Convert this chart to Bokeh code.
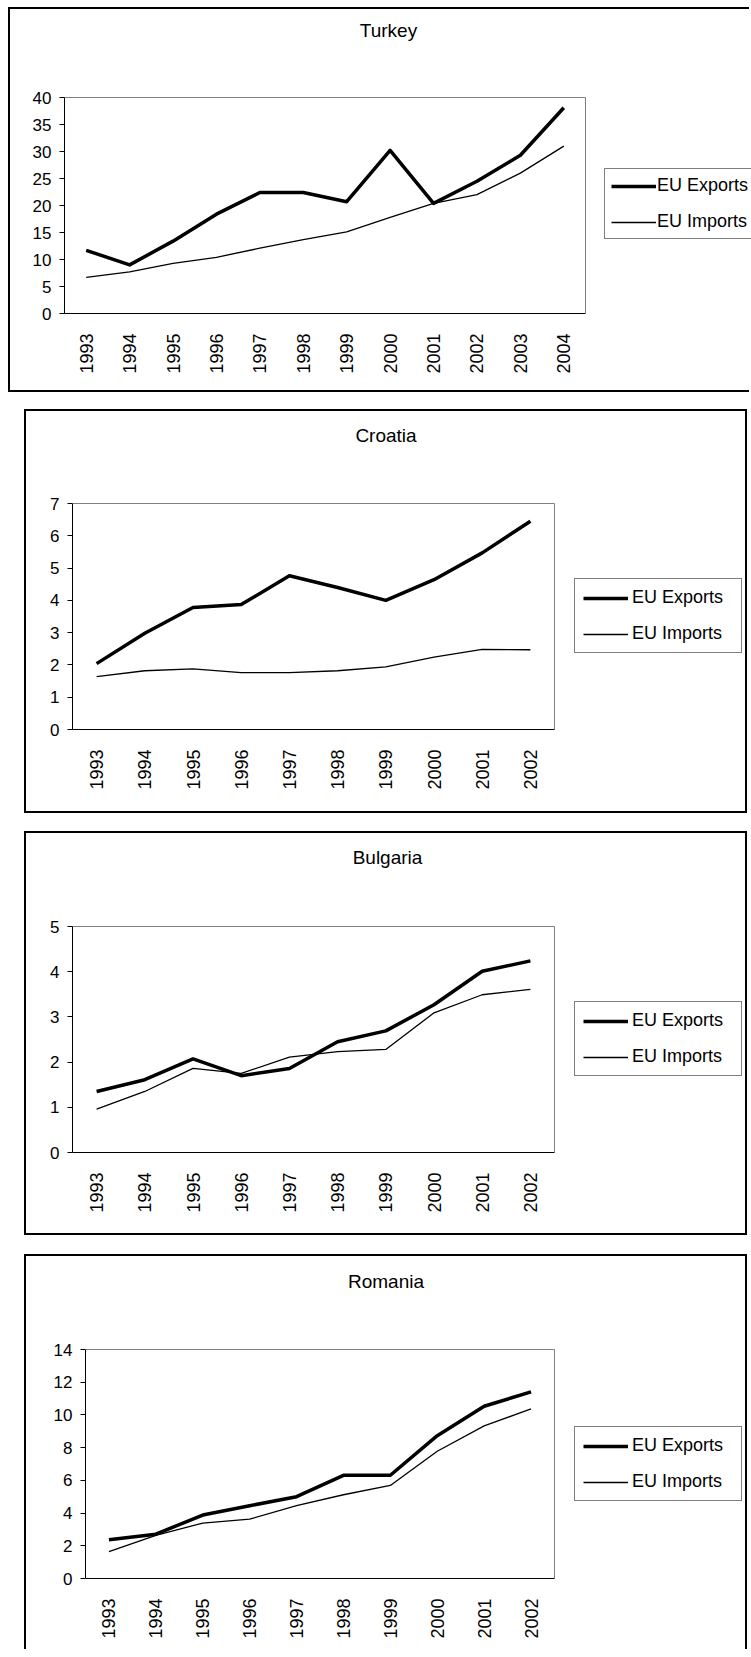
import math
from bokeh.plotting import figure
from bokeh.models import Range1d, FixedTicker, Legend, LegendItem, Label
from bokeh.embed import file_html
from bokeh.resources import INLINE

FONT = "Liberation Sans"

# ---- data ----
turkey_years = ["1993", "1994", "1995", "1996", "1997", "1998", "1999", "2000", "2001", "2002", "2003", "2004"]
turkey_exports = [11.7, 9.0, 13.4, 18.4, 22.4, 22.4, 20.7, 30.2, 20.4, 24.5, 29.3, 38.1]
turkey_imports = [6.7, 7.7, 9.3, 10.4, 12.1, 13.7, 15.1, 17.8, 20.4, 22.0, 26.0, 31.0]

years_10 = ["1993", "1994", "1995", "1996", "1997", "1998", "1999", "2000", "2001", "2002"]
croatia_exports = [2.04, 2.98, 3.78, 3.87, 4.76, 4.40, 4.00, 4.64, 5.47, 6.45]
croatia_imports = [1.64, 1.82, 1.88, 1.76, 1.76, 1.82, 1.94, 2.24, 2.48, 2.47]

bulgaria_exports = [1.35, 1.61, 2.07, 1.70, 1.86, 2.45, 2.69, 3.27, 4.01, 4.24]
bulgaria_imports = [0.96, 1.35, 1.86, 1.75, 2.11, 2.23, 2.28, 3.09, 3.49, 3.61]

romania_exports = [2.37, 2.71, 3.88, 4.45, 5.00, 6.31, 6.31, 8.73, 10.53, 11.41]
romania_imports = [1.65, 2.63, 3.39, 3.63, 4.45, 5.12, 5.69, 7.78, 9.33, 10.37]

series_labels = ["EU Exports", "EU Imports"]


def make_panel(title, years, exports, imports, y_max, y_step, width, height,
               bl, bb, plot_w, plot_h, styles, margin,
               title_dx, title_dy, legend_loc, legend_padding, glyph_w, label_sof, label_w):
    """width/height: canvas size; bl/bb: left/bottom border; plot_w/plot_h: size of the
    chart area (the frame is extended up and right so title and legend live inside it);
    title_dx/title_dy: title centre/baseline offsets in px from the chart area's bottom-left."""
    n = len(years)
    frame_w = width - bl
    frame_h = height - bb
    x_end = n * frame_w / plot_w
    y_end = y_max * frame_h / plot_h
    px_x = plot_w / n
    px_y = plot_h / y_max

    p = figure(width=width, height=height,
               x_range=Range1d(0, x_end), y_range=Range1d(0, y_end),
               output_backend="svg", toolbar_location=None,
               min_border_left=bl, min_border_top=0, min_border_right=0, min_border_bottom=bb,
               margin=margin, styles=styles)
    p.background_fill_color = "white"
    p.border_fill_color = "white"
    p.outline_line_color = None
    p.xgrid.visible = False
    p.ygrid.visible = False

    xs = [i + 0.5 for i in range(n)]

    # grey top and right edges of the chart area
    p.line([0, n, n], [y_max, y_max, 0], line_color="#808080", line_width=1)

    r1 = p.line(xs, exports, line_width=3.5, line_color="black", line_join="round")
    r2 = p.line(xs, imports, line_width=1.3, line_color="black", line_join="round")

    xa = p.xaxis[0]
    xa.ticker = FixedTicker(ticks=xs)
    xa.major_label_overrides = {x: y for x, y in zip(xs, years)}
    xa.bounds = (0, n)
    xa.major_label_orientation = math.pi / 2
    xa.major_tick_out = 0
    xa.major_tick_in = 0
    xa.minor_tick_line_color = None
    xa.axis_line_color = "black"
    xa.major_label_standoff = 20
    xa.major_label_text_font = FONT
    xa.major_label_text_font_size = "18px"
    xa.major_label_text_color = "black"

    ya = p.yaxis[0]
    ya.ticker = FixedTicker(ticks=list(range(0, y_max + 1, y_step)))
    ya.bounds = (0, y_max)
    ya.major_tick_out = 5
    ya.major_tick_in = 0
    ya.minor_tick_line_color = None
    ya.axis_line_color = "black"
    ya.major_label_standoff = 8
    ya.major_label_text_font = FONT
    ya.major_label_text_font_size = "17px"
    ya.major_label_text_color = "black"

    legend = Legend(items=[LegendItem(label=series_labels[0], renderers=[r1]),
                           LegendItem(label=series_labels[1], renderers=[r2])],
                    location=legend_loc, margin=0, padding=legend_padding, spacing=15,
                    glyph_width=glyph_w, glyph_height=20, label_height=20, label_width=label_w,
                    label_standoff=label_sof, label_text_font=FONT, label_text_font_size="18px",
                    label_text_color="black", border_line_color="black", border_line_width=1,
                    background_fill_color="white", background_fill_alpha=1)
    p.add_layout(legend)

    p.add_layout(Label(x=title_dx / px_x, y=title_dy / px_y, text=title,
                       text_align="center", text_baseline="alphabetic",
                       text_font=FONT, text_font_size="19px", text_color="black"))
    return p


full = "2px solid black"
p1 = make_panel("Turkey", turkey_years, turkey_exports, turkey_imports, 40, 5,
                741, 385, 54, 81, 521, 216,
                {"border-left": full, "border-top": full, "border-bottom": full},
                (7, 0, 0, 8), 324, 283, (540, 74), 6, 45, 1, 0)
p2 = make_panel("Croatia", years_10, croatia_exports, croatia_imports, 7, 1,
                723, 404, 46, 86, 482, 226,
                {"border": full}, (17, 0, 0, 24), 313.5, 294, (502, 76), 8, 45, 4, 101)
p3 = make_panel("Bulgaria", years_10, bulgaria_exports, bulgaria_imports, 5, 1,
                723, 404, 46, 85, 482, 226,
                {"border": full}, (18, 0, 0, 24), 315, 295, (502, 76), 8, 45, 4, 101)
p4 = make_panel("Romania", years_10, romania_exports, romania_imports, 14, 2,
                723, 395, 59, 73, 469, 229,
                {"border-left": full, "border-top": full, "border-right": full},
                (19, 0, 0, 24), 300.5, 297, (489, 77), 8, 45, 4, 101)

# separate roots, so that the panels' plot frames are not aligned with each other
with open("out.html", "w") as f:
    f.write(file_html([p1, p2, p3, p4], INLINE))
